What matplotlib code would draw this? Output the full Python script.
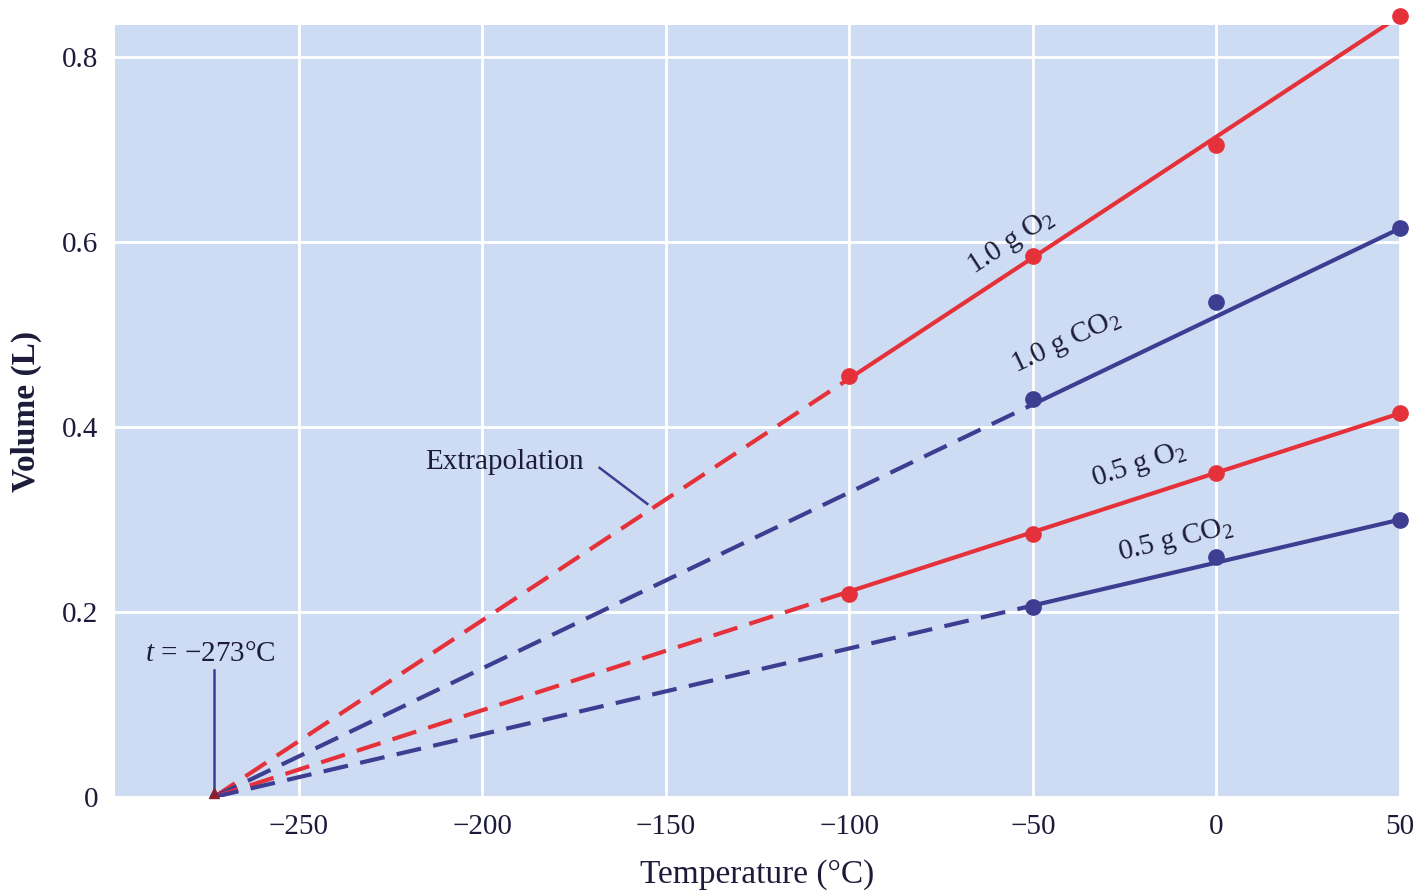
import matplotlib
matplotlib.use("Agg")
import matplotlib.pyplot as plt
import numpy as np

plt.rcParams['font.family'] = ['Liberation Serif', 'DejaVu Serif']
plt.rcParams['mathtext.fontset'] = 'custom'
plt.rcParams['mathtext.rm'] = 'Liberation Serif'
plt.rcParams['mathtext.it'] = 'Liberation Serif:italic'

# measured points (temperature in C, volume in L)
o2_10_t = [-100, -50, 0, 50]
o2_10_v = [0.455, 0.585, 0.705, 0.845]
co2_10_t = [-50, 0, 50]
co2_10_v = [0.43, 0.535, 0.615]
o2_05_t = [-100, -50, 0, 50]
o2_05_v = [0.22, 0.285, 0.35, 0.415]
co2_05_t = [-50, 0, 50]
co2_05_v = [0.205, 0.26, 0.30]

# straight-line fits: zero volume at absolute zero, value at 50 C
abs_zero = -273
fit_end = [0.845, 0.615, 0.415, 0.30]

labels = ["1.0 g O$_2$", "1.0 g CO$_2$", "0.5 g O$_2$", "0.5 g CO$_2$"]
label_pos = [(-56, 0.6), (-41, 0.492), (-21, 0.359), (-11, 0.278)]
label_rot = [33, 25, 18, 13.5]

red = '#e5323a'
blue = '#3d3d92'
txt = '#1c1c3a'

series = [(o2_10_t, o2_10_v, red), (co2_10_t, co2_10_v, blue),
          (o2_05_t, o2_05_v, red), (co2_05_t, co2_05_v, blue)]

fig = plt.figure(figsize=(14.19, 8.93), dpi=100)
ax = fig.add_axes([0.081, 0.1075, 0.9056, 0.8645])
ax.set_facecolor('#cedcf3')
for s in ax.spines.values():
    s.set_visible(False)

ax.set_xlim(-300, 50)
ax.set_ylim(0, 0.835)
ax.set_xticks([-250, -200, -150, -100, -50, 0, 50])
ax.set_xticklabels(['\u2212250', '\u2212200', '\u2212150', '\u2212100', '\u221250', '0', '50'])
ax.set_yticks([0, 0.2, 0.4, 0.6, 0.8])
ax.set_yticklabels(['0', '0.2', '0.4', '0.6', '0.8'])
ax.tick_params(length=0, labelsize=21, labelcolor=txt, pad=12)
ax.grid(True, color='white', lw=2)
ax.set_axisbelow(True)

for (t, v, c), v50, lab, pos, rot in zip(series, fit_end, labels, label_pos, label_rot):
    fx = [abs_zero, 50]
    fy = [0, v50]
    t0 = t[0]
    y0 = np.interp(t0, fx, fy)
    ax.plot([abs_zero, t0], [0, y0], color=c, lw=3, dashes=(6, 3), zorder=3)
    ax.plot([t0, 50], [y0, v50], color=c, lw=3, zorder=3)
    ax.plot(t, v, 'o', color=c, ms=11, zorder=4, clip_on=False)
    ax.text(pos[0], pos[1], lab, rotation=rot, fontsize=21, color=txt,
            ha='center', va='center', rotation_mode='anchor')

# absolute zero marker
ax.plot([abs_zero, abs_zero], [0, 0.137], color=blue, lw=1.8, zorder=5)
ax.plot(abs_zero, 0.004, '^', color='#8a2030', ms=7, zorder=6, clip_on=False)
ax.text(-274, 0.155, "$t$ = \u2212273\u00b0C", fontsize=21, color=txt,
        ha='center', va='center')

ax.text(-194, 0.362, "Extrapolation", fontsize=21, color=txt, ha='center', va='center')
ax.plot([-168, -155], [0.356, 0.317], color=blue, lw=1.8, zorder=5)

ax.set_xlabel("Temperature (\u00b0C)", fontsize=24, color=txt, labelpad=14)
ax.set_ylabel("Volume (L)", fontsize=24, color=txt, fontweight='bold', labelpad=14)

fig.savefig("out.png", dpi=100, facecolor='white')
